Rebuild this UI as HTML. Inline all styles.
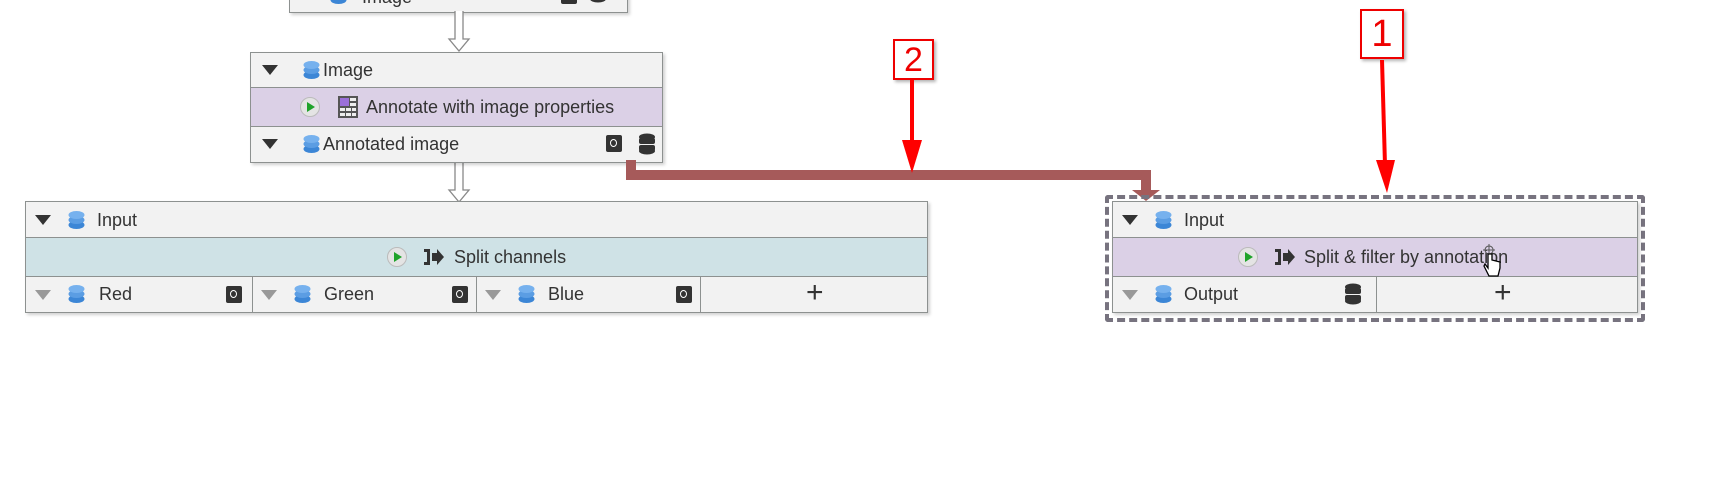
<!DOCTYPE html>
<html><head><meta charset="utf-8"><style>
body{margin:0;width:1729px;height:484px;background:#fff;position:relative;overflow:hidden;font-family:"Liberation Sans",sans-serif;color:#333}
.n{position:absolute;border:1px solid #8d9190;background:#f2f2f2;box-shadow:2px 2px 3px rgba(0,0,0,.18)}
.r{position:absolute;left:0;right:0;border-bottom:1px solid #8d9190;box-sizing:border-box}
.r:last-child{border-bottom:none}
.t{position:absolute;font-size:18px;line-height:20px;white-space:nowrap}
.tri{position:absolute;width:0;height:0;border-left:8px solid transparent;border-right:8px solid transparent;border-top:10px solid #333}
.tri.g{border-top-color:#999}
.lay{position:absolute;width:17px;height:20px}
.play{position:absolute;width:20px;height:20px;border-radius:50%;background:#e4e4e4;border:1px solid #bbb;box-sizing:border-box}
.play:after{content:"";position:absolute;left:6px;top:4px;border-top:5px solid transparent;border-bottom:5px solid transparent;border-left:8px solid #1fa32a}
.cell{position:absolute;top:0;bottom:0;border-left:1px solid #8d9190}
.disk{position:absolute;width:16px;height:17px;background:#333;border-radius:2px}
.disk:after{content:"";position:absolute;left:4px;top:4px;width:5px;height:6px;border:1.5px solid #fff;border-radius:50%}
.db{position:absolute;width:16px;height:22px}
.plus{position:absolute;font-size:30px;line-height:30px;color:#333}
</style></head><body>
<svg width="0" height="0" style="position:absolute"><defs>
<g id="L"><ellipse cx="8.5" cy="15" rx="8" ry="4" fill="#3c86d6"/><ellipse cx="8.5" cy="10" rx="8" ry="4" fill="#5b9de3"/><ellipse cx="8.5" cy="5" rx="8" ry="4" fill="#76b1ee"/></g>
<g id="D"><ellipse cx="8" cy="4" rx="8" ry="3.5" fill="#333"/><rect x="0" y="5" width="16" height="6" rx="2" fill="#333"/><rect x="0" y="12" width="16" height="6" rx="2" fill="#333"/><ellipse cx="8" cy="18" rx="8" ry="3.5" fill="#333"/></g>
</defs></svg>

<div class="n" style="left:289px;top:-30px;width:337px;height:41px">
 <div class="t" style="left:72px;top:16px">Image</div>
 <svg class="lay" style="left:40px;top:14px"><use href="#L"/></svg>
 <div class="disk" style="left:271px;top:16px"></div>
 <svg class="db" style="left:300px;top:10px"><use href="#D"/></svg>
</div>

<svg style="position:absolute;left:446px;top:11px" width="26" height="42"><path d="M9 0V28H3L13 40L23 28H17V0" fill="#fff" stroke="#888" stroke-width="1.3"/></svg>
<svg style="position:absolute;left:446px;top:162px" width="26" height="42"><path d="M9 0V28H3L13 40L23 28H17V0" fill="#fff" stroke="#888" stroke-width="1.3"/></svg>

<div class="n" style="left:250px;top:52px;width:411px;height:109px">
 <div class="r" style="top:0;height:35px"><div class="tri" style="left:11px;top:12px"></div><svg class="lay" style="left:52px;top:7px"><use href="#L"/></svg><div class="t" style="left:72px;top:7px">Image</div></div>
 <div class="r" style="top:35px;height:39px;background:#dbd0e6"><div class="play" style="left:49px;top:9px"></div><svg style="position:absolute;left:87px;top:8px" width="20" height="22"><rect x="0" y="0" width="20" height="22" fill="#555"/><rect x="2" y="2" width="9" height="8" fill="#9b6fd9"/><g fill="#eee"><rect x="12" y="2" width="6" height="3"/><rect x="12" y="7" width="6" height="3"/><rect x="2" y="12" width="5" height="3"/><rect x="8" y="12" width="5" height="3"/><rect x="14" y="12" width="4" height="3"/><rect x="2" y="17" width="5" height="3"/><rect x="8" y="17" width="5" height="3"/><rect x="14" y="17" width="4" height="3"/></g></svg><div class="t" style="left:115px;top:9px">Annotate with image properties</div></div>
 <div class="r" style="top:74px;height:35px"><div class="tri" style="left:11px;top:12px"></div><svg class="lay" style="left:52px;top:7px"><use href="#L"/></svg><div class="t" style="left:72px;top:7px">Annotated image</div><div class="disk" style="left:355px;top:8px"></div><svg class="db" style="left:388px;top:6px"><use href="#D"/></svg></div>
</div>

<svg style="position:absolute;left:620px;top:160px" width="560" height="50">
 <path d="M11 0V15H526V30" fill="none" stroke="#a65a5a" stroke-width="10"/>
 <path d="M512 30H540L526 41Z" fill="#a65a5a"/>
</svg>

<div class="n" style="left:25px;top:201px;width:901px;height:110px">
 <div class="r" style="top:0;height:36px"><div class="tri" style="left:9px;top:13px"></div><svg class="lay" style="left:42px;top:8px"><use href="#L"/></svg><div class="t" style="left:71px;top:8px">Input</div></div>
 <div class="r" style="top:36px;height:39px;background:#cfe2e6"><div class="play" style="left:361px;top:9px"></div><svg style="position:absolute;left:398px;top:9px" width="20" height="20"><path d="M0 2H6V18H0V15H3V5H0Z M8 6H13V2L20 10L13 18V14H8Z" fill="#333"/></svg><div class="t" style="left:428px;top:9px">Split channels</div></div>
 <div class="r" style="top:75px;height:35px">
  <div class="tri g" style="left:9px;top:13px"></div><svg class="lay" style="left:42px;top:7px"><use href="#L"/></svg><div class="t" style="left:73px;top:7px">Red</div><div class="disk" style="left:200px;top:9px"></div>
  <div class="cell" style="left:226px;width:224px"><div class="tri g" style="left:8px;top:13px"></div><svg class="lay" style="left:41px;top:7px"><use href="#L"/></svg><div class="t" style="left:71px;top:7px">Green</div><div class="disk" style="left:199px;top:9px"></div></div>
  <div class="cell" style="left:450px;width:224px"><div class="tri g" style="left:8px;top:13px"></div><svg class="lay" style="left:41px;top:7px"><use href="#L"/></svg><div class="t" style="left:71px;top:7px">Blue</div><div class="disk" style="left:199px;top:9px"></div></div>
  <div class="cell" style="left:674px;right:0"><div class="plus" style="left:105px;top:1px">+</div></div>
 </div>
</div>

<div style="position:absolute;left:1105px;top:195px;width:532px;height:119px;border:4px dashed #77737f;border-radius:3px"></div>

<div class="n" style="left:1112px;top:201px;width:524px;height:110px">
 <div class="r" style="top:0;height:36px"><div class="tri" style="left:9px;top:13px"></div><svg class="lay" style="left:42px;top:8px"><use href="#L"/></svg><div class="t" style="left:71px;top:8px">Input</div></div>
 <div class="r" style="top:36px;height:39px;background:#dbd0e6"><div class="play" style="left:125px;top:9px"></div><svg style="position:absolute;left:162px;top:9px" width="20" height="20"><path d="M0 2H6V18H0V15H3V5H0Z M8 6H13V2L20 10L13 18V14H8Z" fill="#333"/></svg><div class="t" style="left:191px;top:9px">Split &amp; filter by annotation</div>
  <svg style="position:absolute;left:370px;top:6px" width="20" height="36"><path d="M6 2a4 4 0 1 0 .1 0M6 0V12M0 6H12" stroke="#555" fill="none"/><path d="M5 10V24L2 20L1 22L6 32H15L17 24V18L9 16V10Z" fill="#fff" stroke="#000" stroke-width="1.3"/></svg></div>
 <div class="r" style="top:75px;height:35px">
  <div class="tri g" style="left:9px;top:13px"></div><svg class="lay" style="left:42px;top:7px"><use href="#L"/></svg><div class="t" style="left:71px;top:7px">Output</div><svg class="db" style="left:232px;top:6px"><use href="#D"/></svg>
  <div class="cell" style="left:263px;right:0"><div class="plus" style="left:117px;top:1px">+</div></div>
 </div>
</div>

<div style="position:absolute;left:1360px;top:9px;width:40px;height:46px;border:2px solid #e00;box-shadow:2px 2px 3px rgba(0,0,0,.3);color:#e00;font-size:38px;line-height:46px;text-align:center">1</div>
<div style="position:absolute;left:893px;top:39px;width:37px;height:37px;border:2px solid #e00;box-shadow:2px 2px 3px rgba(0,0,0,.3);color:#e00;font-size:34px;line-height:38px;text-align:center">2</div>
<svg style="position:absolute;left:0;top:0" width="1729" height="484">
 <path d="M1382 60L1385 165" stroke="#f00" stroke-width="4"/><path d="M1376 160L1395 160L1387 193Z" fill="#f00"/>
 <path d="M912 80V145" stroke="#f00" stroke-width="4"/><path d="M902 140H922L912 173Z" fill="#f00"/>
</svg>
</body></html>
